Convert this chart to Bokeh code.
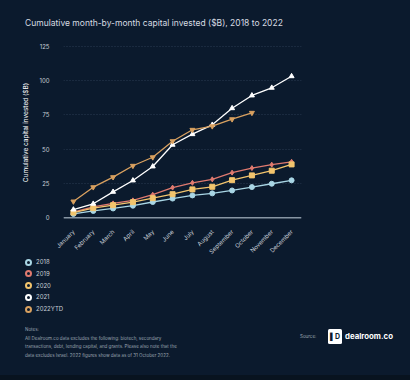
from bokeh.plotting import figure
from bokeh.models import ColumnDataSource, FixedTicker, Span, Div
from bokeh.layouts import column
from bokeh.embed import file_html
from bokeh.resources import INLINE
from math import pi

months = ["January", "February", "March", "April", "May", "June", "July",
          "August", "September", "October", "November", "December"]
s2018 = [2.8, 5.0, 6.8, 8.8, 11.5, 14.0, 16.3, 17.8, 19.9, 22.4, 24.8, 27.3]
s2019 = [4.2, 8.0, 10.5, 12.7, 16.8, 22.0, 25.5, 28.0, 32.9, 36.2, 38.7, 40.8]
s2020 = [3.8, 7.0, 9.2, 11.4, 14.3, 17.2, 20.7, 22.6, 27.4, 30.9, 34.3, 38.9]
s2021 = [6.0, 10.2, 18.9, 27.2, 37.4, 53.2, 60.9, 67.7, 79.8, 89.1, 94.7, 103.1]
s2022 = [11.9, 22.3, 29.6, 37.9, 44.1, 55.8, 64.1, 66.7, 71.8, 76.5]
y_ticks = [0, 25, 50, 75, 100, 125]
series_names = ["2018", "2019", "2020", "2021", "2022YTD"]
title_text = "Cumulative month-by-month capital invested ($B), 2018 to 2022"
note_lines = ["Notes:",
              "All Dealroom.co data excludes the following: biotech, secondary",
              "transactions, debt, lending capital, and grants. Please also note that the",
              "data excludes Israel. 2022 figures show data as of 31 October 2022."]

BG = "#0b1a2d"
TXT = "#c8ced6"
NOTE = "#9aa4b0"
colors = ["#a9d6e5", "#e07a6f", "#f2c46d", "#ffffff", "#d9a160"]
markers = ["circle", "diamond", "square", "triangle", "inverted_triangle"]
FONT = "Inter"
W = 410
H0, H1 = 35, 232
H2 = 380 - H0 - H1
TOP2 = H0 + H1  # page y where the bottom strip starts

# --- title strip -------------------------------------------------------------
title_html = (
    f'<div style="position:relative;width:{W}px;height:{H0}px;background:{BG};'
    f'font-family:{FONT};">'
    f'<div style="position:absolute;left:25px;top:17px;font-size:8.5px;line-height:12px;'
    f'color:#d7dce2;white-space:nowrap;">{title_text}</div></div>')
d0 = Div(text=title_html, width=W, height=H0, margin=0,
         styles={"background-color": BG})

# --- chart ------------------------------------------------------------------
p = figure(width=W, height=H1, x_range=months, y_range=(-1.24, 125.5),
           output_backend="svg", toolbar_location=None,
           min_border_left=63, min_border_right=109, min_border_top=10,
           min_border_bottom=H0 + H1 - 219, styles={"background-color": BG})
p.background_fill_color = None
p.border_fill_color = None
p.outline_line_color = None

p.xgrid.grid_line_color = None
p.ygrid.grid_line_color = "#2a3b52"
p.ygrid.grid_line_dash = "1 2"
p.ygrid.grid_line_width = 1
p.yaxis.ticker = FixedTicker(ticks=y_ticks)

p.yaxis.axis_line_color = None
p.yaxis.major_tick_line_color = None
p.yaxis.minor_tick_line_color = None
p.yaxis.major_label_text_color = TXT
p.yaxis.major_label_text_font_size = "6px"
p.yaxis.major_label_text_font = FONT
p.yaxis.major_label_standoff = 8
p.yaxis.axis_label = "Cumulative capital invested ($B)"
p.yaxis.axis_label_text_font = FONT
p.yaxis.axis_label_text_font_size = "6.5px"
p.yaxis.axis_label_text_font_style = "normal"
p.yaxis.axis_label_text_color = "#ffffff"
p.yaxis.axis_label_standoff = 6

p.xaxis.axis_line_color = None
p.xaxis.major_tick_line_color = None
p.xaxis.minor_tick_line_color = None
p.xaxis.major_label_orientation = pi / 4
p.xaxis.major_label_text_color = TXT
p.xaxis.major_label_text_font_size = "6px"
p.xaxis.major_label_text_font = FONT
p.xaxis.major_label_standoff = 5

p.add_layout(Span(location=0, dimension="width", line_color="#8795a3", line_width=1.5))

all_series = [s2018, s2019, s2020, s2021, s2022]
for name, vals, c, m in zip(series_names, all_series, colors, markers):
    xs = months[:len(vals)]
    src = ColumnDataSource(dict(x=xs, y=vals))
    p.line("x", "y", source=src, line_color=c, line_width=1.3)
    p.scatter("x", "y", source=src, marker=m, size=5, fill_color=c, line_color=c)

# --- legend, notes and source ----------------------------------------------------
parts = [f'<div style="position:relative;width:{W}px;height:{H2}px;background:{BG};'
         f'font-family:{FONT};">']
for i, (name, c) in enumerate(zip(series_names, colors)):
    top = 258 + i * 11.8 - TOP2
    parts.append(
        f'<div style="position:absolute;left:25px;top:{top:.1f}px;height:8px;display:flex;'
        f'align-items:center;white-space:nowrap;">'
        f'<span style="display:inline-block;box-sizing:border-box;width:7px;height:7px;'
        f'border-radius:50%;border:2.4px solid {c};background:{BG};"></span>'
        f'<span style="margin-left:4px;font-size:6px;line-height:8px;color:{TXT};">{name}</span>'
        f'</div>')
for j, line in enumerate(note_lines):
    top = 326 + j * 8.5 - TOP2
    parts.append(
        f'<div style="position:absolute;left:25px;top:{top:.1f}px;font-size:4.5px;'
        f'line-height:7px;color:{NOTE};white-space:nowrap;">{line}</div>')
parts.append(
    f'<div style="position:absolute;left:300px;top:{333 - TOP2}px;font-size:4.5px;line-height:7px;'
    f'color:{NOTE};white-space:nowrap;">Source:</div>')
parts.append(
    f'<div style="position:absolute;left:328px;top:{329 - TOP2}px;width:14px;height:15px;'
    f'background:#ffffff;border-radius:1.5px;display:flex;align-items:center;'
    f'justify-content:center;font-size:7px;font-weight:bold;color:{BG};">&#9612;D</div>')
parts.append(
    f'<div style="position:absolute;left:345px;top:{331.5 - TOP2}px;font-size:7.8px;line-height:9px;'
    f'font-weight:bold;color:#ffffff;white-space:nowrap;">dealroom.co</div>')
parts.append(f'<div style="position:absolute;left:0;top:{H2 - 5}px;width:{W}px;height:5px;'
             f'background:#08131f;"></div>')
parts.append('</div>')
d2 = Div(text="".join(parts), width=W, height=H2, margin=0,
         styles={"background-color": BG})

layout = column(d0, p, d2, spacing=0, styles={"background-color": BG})
html = file_html(layout, INLINE)
html = html.replace("<head>", "<head><style>html,body{background:%s;margin:0;}</style>" % BG, 1)
open("out.html", "w").write(html)
